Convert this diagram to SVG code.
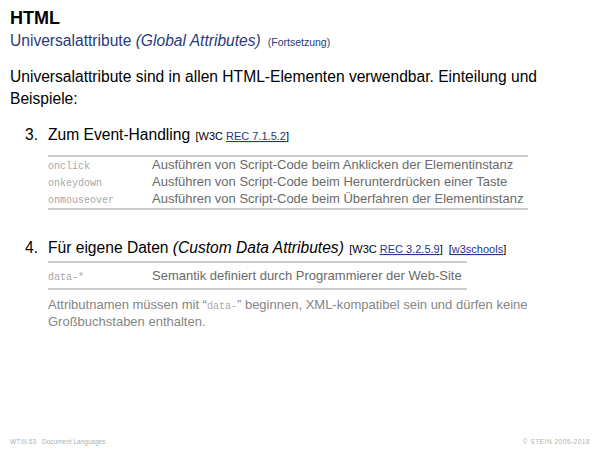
<svg xmlns="http://www.w3.org/2000/svg" width="600" height="450" viewBox="0 0 600 450">
<style>
text{font-family:"Liberation Sans",Arial,sans-serif;}
.mono{font-family:"Liberation Mono","Courier New",monospace;fill:#a8a8a8;font-size:10px;}
.desc{fill:#6a6a6a;font-size:13px;}
.para{fill:#858585;font-size:13px;}
.rule{stroke:#999;stroke-width:1;}
.ref{font-size:11px;fill:#000;}
.link{fill:#25358a;text-decoration:underline;}
.foot{fill:#b0b0b0;font-size:6.5px;}
</style>
<rect width="600" height="450" fill="#fff"/>
<g id="header">
<text x="10" y="24" font-size="18" font-weight="bold" fill="#000">HTML</text>
<text x="10" y="46" font-size="15.6" fill="#2a3a7a">Universalattribute <tspan font-style="italic">(Global Attributes)</tspan><tspan font-size="10.5" dx="7">(Fortsetzung)</tspan></text>
</g>
<g id="intro">
<text x="10" y="82" font-size="15.6" fill="#000">Universalattribute sind in allen HTML-Elementen verwendbar. Einteilung und</text>
<text x="10" y="104" font-size="15.6" fill="#000">Beispiele:</text>
</g>
<g id="section3">
<text x="25" y="140" font-size="15.6" fill="#000">3.</text>
<text x="48" y="140" font-size="15.6" fill="#000">Zum Event-Handling <tspan class="ref" dx="1">[W3C </tspan><tspan class="ref link">REC 7.1.5.2</tspan><tspan class="ref">]</tspan></text>
<line class="rule" x1="48" y1="156" x2="528" y2="156"/>
<text class="mono" x="48" y="169">onclick</text>
<text class="desc" x="152" y="169">Ausführen von Script-Code beim Anklicken der Elementinstanz</text>
<text class="mono" x="48" y="186">onkeydown</text>
<text class="desc" x="152" y="186">Ausführen von Script-Code beim Herunterdrücken einer Taste</text>
<text class="mono" x="48" y="203">onmouseover</text>
<text class="desc" x="152" y="203">Ausführen von Script-Code beim Überfahren der Elementinstanz</text>
<line class="rule" x1="48" y1="209" x2="528" y2="209"/>
</g>
<g id="section4">
<text x="25" y="253" font-size="15.6" fill="#000">4.</text>
<text x="48" y="253" font-size="15.6" fill="#000">Für eigene Daten <tspan font-style="italic">(Custom Data Attributes)</tspan> <tspan class="ref" dx="1">[W3C </tspan><tspan class="ref link">REC 3.2.5.9</tspan><tspan class="ref">]</tspan><tspan class="ref" dx="6">[</tspan><tspan class="ref link">w3schools</tspan><tspan class="ref">]</tspan></text>
<line class="rule" x1="48" y1="262" x2="467" y2="262"/>
<text class="mono" x="48" y="280">data-*</text>
<text class="desc" x="152" y="280">Semantik definiert durch Programmierer der Web-Site</text>
<line class="rule" x1="48" y1="289" x2="467" y2="289"/>
<text class="para" x="48" y="309">Attributnamen müssen mit “<tspan class="mono" font-size="10">data-</tspan>” beginnen, XML-kompatibel sein und dürfen keine</text>
<text class="para" x="48" y="326">Großbuchstaben enthalten.</text>
</g>
<g id="footer">
<text class="foot" x="10" y="444">WT:III-53<tspan dx="6">Document Languages</tspan></text>
<text class="foot" x="590" y="444" text-anchor="end" letter-spacing="0.5">© STEIN 2005-2018</text>
</g>
</svg>
